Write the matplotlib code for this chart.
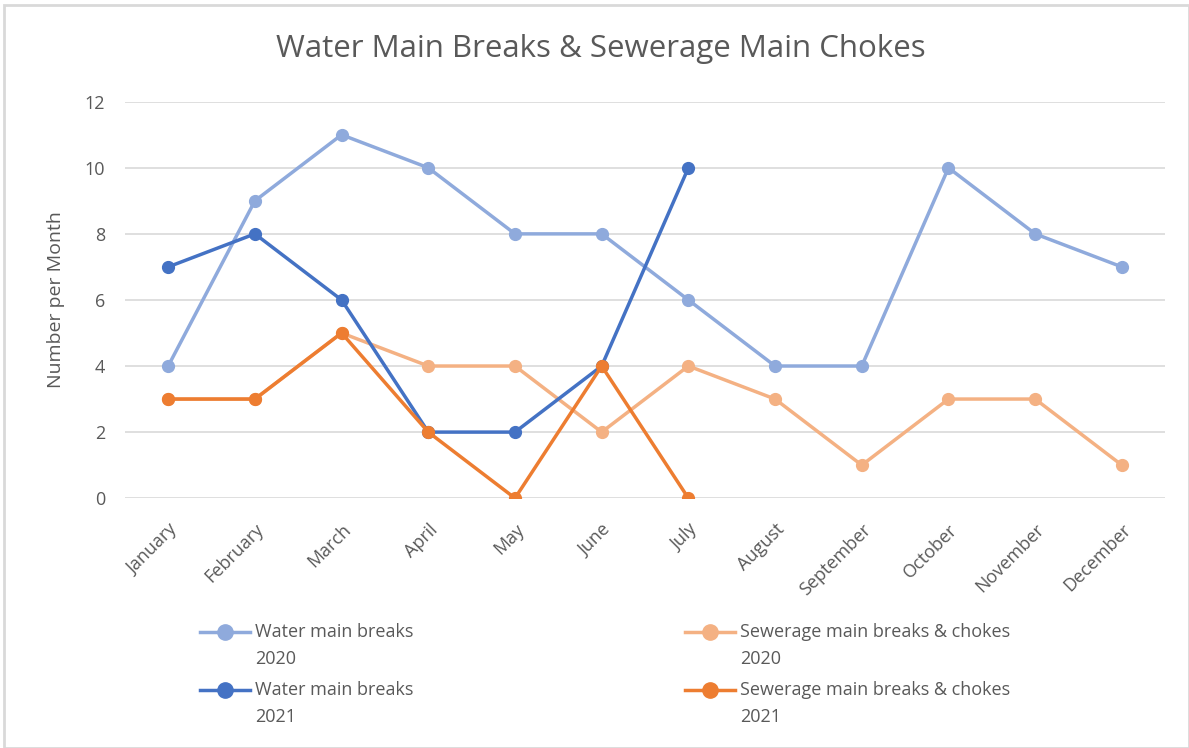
import matplotlib.pyplot as plt
from matplotlib.lines import Line2D
from matplotlib.patches import Rectangle

months = ['January', 'February', 'March', 'April', 'May', 'June', 'July',
          'August', 'September', 'October', 'November', 'December']
water_2020 = [4, 9, 11, 10, 8, 8, 6, 4, 4, 10, 8, 7]
sewer_2020 = [3, 3, 5, 4, 4, 2, 4, 3, 1, 3, 3, 1]
water_2021 = [7, 8, 6, 2, 2, 4, 10]
sewer_2021 = [3, 3, 5, 2, 0, 4, 0]

plt.rcParams['font.family'] = ['Open Sans', 'DejaVu Sans']
txt = '#595959'
W, H = 1189, 748

fig = plt.figure(figsize=(W / 100, H / 100), dpi=100)
fig.patches.append(Rectangle((0.003, 0.0), 0.997, 0.993, transform=fig.transFigure,
                             fill=False, edgecolor='#d9d9d9', lw=2))
ax = fig.add_axes([0.105, 0.334, 0.875, 0.53])

x = list(range(len(months)))
series = [
    (water_2020, '#8FAADC', 'Water main breaks\n2020'),
    (sewer_2020, '#F4B183', 'Sewerage main breaks & chokes\n2020'),
    (water_2021, '#4472C4', 'Water main breaks\n2021'),
    (sewer_2021, '#ED7D31', 'Sewerage main breaks & chokes\n2021'),
]
for vals, col, lab in series:
    ax.plot(x[:len(vals)], vals, color=col, lw=2.5, marker='o', ms=8.5, label=lab)

ax.set_xlim(-0.5, 11.5)
ax.set_ylim(0, 12)
ax.set_yticks(range(0, 13, 2))
ax.set_xticks(x)
ax.set_xticklabels(months, rotation=45, ha='right', rotation_mode='anchor')
ax.tick_params(axis='both', length=0, colors=txt, labelsize=13, pad=14)
ax.tick_params(axis='x', pad=16)
ax.grid(axis='y', color='#d9d9d9', lw=1.2)
ax.set_axisbelow(True)
for s in ax.spines.values():
    s.set_visible(False)
ax.set_ylabel('Number per Month', color=txt, fontsize=14, labelpad=14)

fig.text(0.505, 0.935, 'Water Main Breaks & Sewerage Main Chokes', ha='center', va='center',
         fontsize=22.5, color=txt)

# legend drawn by hand so the marker sits on the first text line (Excel style)
slots = [(200, 632), (685, 632), (200, 690), (685, 690)]
for (px, py), (vals, col, lab) in zip(slots, series):
    yf = 1 - py / H
    fig.add_artist(Line2D([px / W, (px + 50) / W], [yf, yf], transform=fig.transFigure,
                          color=col, lw=2.5))
    fig.add_artist(Line2D([(px + 25) / W], [yf], transform=fig.transFigure,
                          color=col, marker='o', ms=11))
    fig.text((px + 55) / W, 1 - (py - 9) / H, lab, ha='left', va='top', fontsize=13,
             color=txt, linespacing=1.65, transform=fig.transFigure)

fig.savefig('out.png', dpi=100)
